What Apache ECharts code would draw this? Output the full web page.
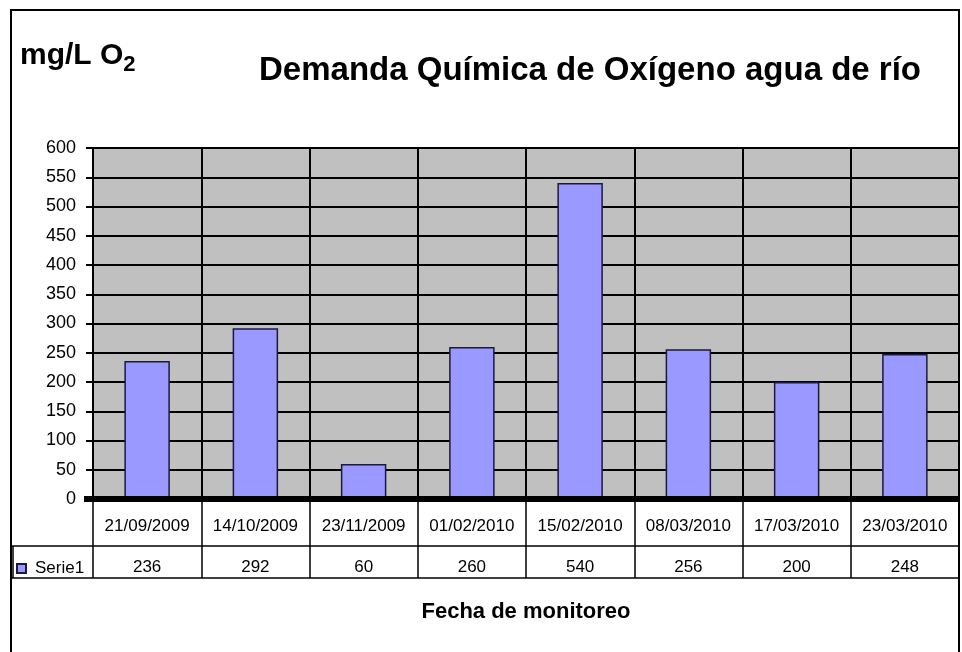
<!DOCTYPE html>
<html><head><meta charset="utf-8">
<script src="https://cdn.jsdelivr.net/npm/echarts@6/dist/echarts.min.js"></script>
<style>html,body{margin:0;padding:0;background:#fff}#c{width:962px;height:652px}</style>
</head><body><div id="c"></div>
<script>
var categories = ['21/09/2009','14/10/2009','23/11/2009','01/02/2010','15/02/2010','08/03/2010','17/03/2010','23/03/2010'];
var values = [236, 292, 60, 260, 540, 256, 200, 248];
var seriesName = 'Serie1';
var yTicks = {min: 0, max: 600, interval: 50};

var F = '"Liberation Sans", Arial, sans-serif';
var chart = echarts.init(document.getElementById('c'));
chart.setOption({
  backgroundColor: '#fff',
  animation: false,
  title: [{
    text: 'Demanda Química de Oxígeno agua de río',
    left: 585, top: 49, textAlign: 'center',
    textStyle: {fontFamily: F, fontSize: 33, fontWeight: 'bold', color: '#000'}
  }, {
    text: '{a|mg/L O}{s|2}',
    left: 15, top: 31,
    textStyle: {rich: {
      a: {fontFamily: F, fontSize: 30, fontWeight: 'bold', color: '#000'},
      s: {fontFamily: F, fontSize: 22, fontWeight: 'bold', color: '#000', padding: [18, 0, 0, 0]}
    }}
  }],
  legend: {
    left: 11, top: 555, itemWidth: 9, itemHeight: 9, itemGap: 12, icon: 'rect',
    data: [seriesName],
    textStyle: {fontFamily: F, fontSize: 17, color: '#000', padding: [0, 0, 0, 4]}
  },
  grid: {left: 93, right: 3, top: 148, bottom: 153, show: true,
         backgroundColor: '#C0C0C0', borderColor: '#808080', borderWidth: 1},
  xAxis: [{
    type: 'category', data: categories, position: 'bottom',
    name: 'Fecha de monitoreo', nameLocation: 'middle', nameGap: 102,
    nameTextStyle: {fontFamily: F, fontSize: 22, fontWeight: 'bold', color: '#000'},
    axisLine: {show: false},
    axisTick: {show: true, interval: 0, length: 79, lineStyle: {color: '#000', width: 1.5}},
    axisLabel: {interval: 0, margin: 19, fontFamily: F, fontSize: 17, color: '#000'},
    splitLine: {show: true, interval: 0, lineStyle: {color: '#000', width: 2}}
  }, {
    type: 'category', data: values.map(String), position: 'bottom',
    axisLine: {show: false}, axisTick: {show: false}, splitLine: {show: false},
    axisLabel: {interval: 0, margin: 60, fontFamily: F, fontSize: 17, color: '#000'}
  }],
  yAxis: {
    type: 'value', min: yTicks.min, max: yTicks.max, interval: yTicks.interval,
    axisLine: {show: true, lineStyle: {color: '#000', width: 2}},
    axisTick: {show: true, length: 7, lineStyle: {color: '#000', width: 2}},
    axisLabel: {margin: 17, fontFamily: F, fontSize: 18, color: '#000'},
    splitLine: {show: true, lineStyle: {color: '#000', width: 2}}
  },
  series: [{
    name: seriesName, type: 'bar', data: values, xAxisIndex: 0,
    barWidth: '42%',
    itemStyle: {color: '#9999FF', borderColor: '#1a1a40', borderWidth: 1.5},
    markLine: {
      silent: true, symbol: 'none', label: {show: false},
      lineStyle: {color: '#000', width: 6, type: 'solid'},
      data: [{yAxis: 0}]
    }
  }],
  graphic: [
    {type: 'rect', shape: {x: 11, y: 10, width: 948, height: 700}, style: {fill: 'none', stroke: '#000', lineWidth: 2}, silent: true},
    {type: 'line', shape: {x1: 12, y1: 546, x2: 959, y2: 546}, style: {stroke: '#000', lineWidth: 1.5}},
    {type: 'line', shape: {x1: 12, y1: 578, x2: 959, y2: 578}, style: {stroke: '#000', lineWidth: 1.5}},
    {type: 'line', shape: {x1: 13, y1: 546, x2: 13, y2: 578}, style: {stroke: '#000', lineWidth: 1.5}},
    {type: 'line', shape: {x1: 84, y1: 499, x2: 93, y2: 499}, style: {stroke: '#000', lineWidth: 6}}
  ]
});
</script></body></html>
